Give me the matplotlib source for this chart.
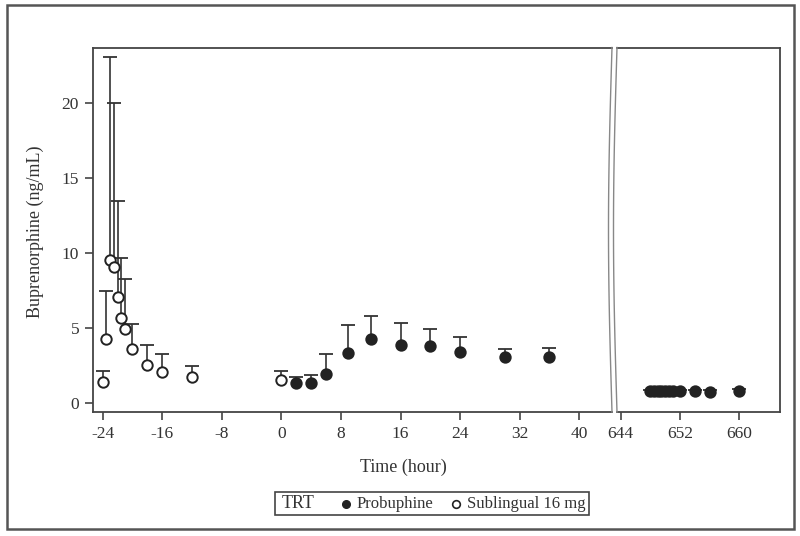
import numpy as np
import matplotlib
matplotlib.use("Agg")
import matplotlib.pyplot as plt
from matplotlib.lines import Line2D
from matplotlib.patches import Rectangle

plt.rcParams['font.family'] = ['Liberation Serif', 'DejaVu Serif']
plt.rcParams['font.size'] = 12
plt.rcParams['axes.unicode_minus'] = False

# sublingual 16 mg (open circles): time, mean, upper end of error bar
sl_time = [-24, -23.5, -23, -22.5, -22, -21.5, -21, -20, -18, -16, -12, 0]
sl_mean = [1.43, 4.3, 9.52, 9.1, 7.1, 5.68, 4.97, 3.65, 2.55, 2.1, 1.77, 1.55]
sl_upper = [2.17, 7.5, 23.1, 20.0, 13.45, 9.68, 8.28, 5.3, 3.9, 3.32, 2.52, 2.17]

# probuphine (filled circles)
pb_time = [2, 4, 6, 9, 12, 16, 20, 24, 30, 36]
pb_mean = [1.37, 1.37, 1.97, 3.35, 4.28, 3.88, 3.81, 3.41, 3.06, 3.06]
pb_upper = [1.79, 1.88, 3.28, 5.21, 5.83, 5.37, 4.94, 4.43, 3.63, 3.72]

# probuphine, late time points (after axis break)
late_time = [648, 648.5, 649, 649.5, 650, 650.5, 651, 652, 654, 656, 660]
late_mean = [0.82, 0.82, 0.82, 0.82, 0.82, 0.82, 0.82, 0.82, 0.80, 0.76, 0.82]
late_upper = [0.92, 0.92, 0.92, 0.92, 0.92, 0.92, 0.92, 0.92, 0.92, 0.9, 0.94]

left_ticks = [-24, -16, -8, 0, 8, 16, 24, 32, 40]
right_ticks = [644, 652, 660]
y_ticks = [0, 5, 10, 15, 20]

W, H = 800, 536
fig = plt.figure(figsize=(8, 5.36), dpi=100)
spine_c = '#444444'
txt_c = '#333333'


def px(x0, y0, x1, y1):
    return [x0 / W, 1 - y1 / H, (x1 - x0) / W, (y1 - y0) / H]


ax1 = fig.add_axes(px(93, 47.5, 612, 412))
ax2 = fig.add_axes(px(617, 47.5, 780, 412), sharey=ax1)


def draw(ax, t, m, u, filled):
    # upper-only error bars: stem + cap
    ax.vlines(t, m, u, color='#333333', lw=1.2, zorder=2)
    ax.plot(t, u, marker='_', ms=9.5, mew=1.3, color='#333333',
            linestyle='none', zorder=2)
    ax.plot(t, m, 'o', ms=7.5, mfc='#222222' if filled else 'white',
            mec='#222222', mew=1.4, zorder=3, linestyle='none')


draw(ax1, sl_time, sl_mean, sl_upper, False)
draw(ax1, pb_time, pb_mean, pb_upper, True)
draw(ax2, late_time, late_mean, late_upper, True)

ax1.set_xlim(-25.3, 44.4)
ax2.set_xlim(643.5, 665.5)
ax1.set_ylim(-0.57, 23.7)
ax1.set_xticks(left_ticks)
ax2.set_xticks(right_ticks)
ax1.set_yticks(y_ticks)

for ax in (ax1, ax2):
    for s in ax.spines.values():
        s.set_color(spine_c)
        s.set_linewidth(1.3)
    ax.tick_params(direction='out', length=6, width=1.2, color=spine_c,
                   labelcolor=txt_c, labelsize=12.5, pad=4)
ax1.spines['right'].set_visible(False)
ax2.spines['left'].set_visible(False)
ax2.tick_params(axis='y', left=False, labelleft=False)

# break symbol: two bowed lines between the panels
tt = np.linspace(0, 1, 100)
ys = 47.5 + tt * (412 - 47.5)
bow = 3.5 * np.sin(np.pi * tt)
for xe in (612, 617):
    xs = xe - bow
    fig.add_artist(Line2D(xs / W, 1 - ys / H, color='#888888', lw=1.0))

fig.text(403 / W, 1 - 467 / H, 'Time (hour)', ha='center', va='center',
         fontsize=13, color=txt_c)
fig.text(35 / W, 1 - 232 / H, 'Buprenorphine (ng/mL)', ha='center',
         va='center', rotation=90, fontsize=13, color=txt_c)

# legend box
fig.add_artist(Rectangle((275 / W, 1 - 515 / H), (589 - 275) / W, 23 / H,
                         fill=False, edgecolor=spine_c, lw=1.2))
ly = 1 - 503.5 / H
fig.text(282 / W, ly, 'TRT', ha='left', va='center', fontsize=13, color=txt_c)
fig.add_artist(Line2D([346 / W], [ly], marker='o', ms=5.5, mfc='#222222',
                      mec='#222222', linestyle='none'))
fig.text(357 / W, ly, 'Probuphine', ha='left', va='center', fontsize=12, color=txt_c)
fig.add_artist(Line2D([456 / W], [ly], marker='o', ms=5.5, mfc='white',
                      mec='#222222', mew=1.2, linestyle='none'))
fig.text(467 / W, ly, 'Sublingual 16 mg', ha='left', va='center', fontsize=12,
         color=txt_c)

# outer frame
fig.add_artist(Rectangle((7 / W, 1 - 529 / H), (794 - 7) / W, (529 - 5) / H,
                         fill=False, edgecolor='#555555', lw=1.8))

fig.savefig('out.png', dpi=100)
